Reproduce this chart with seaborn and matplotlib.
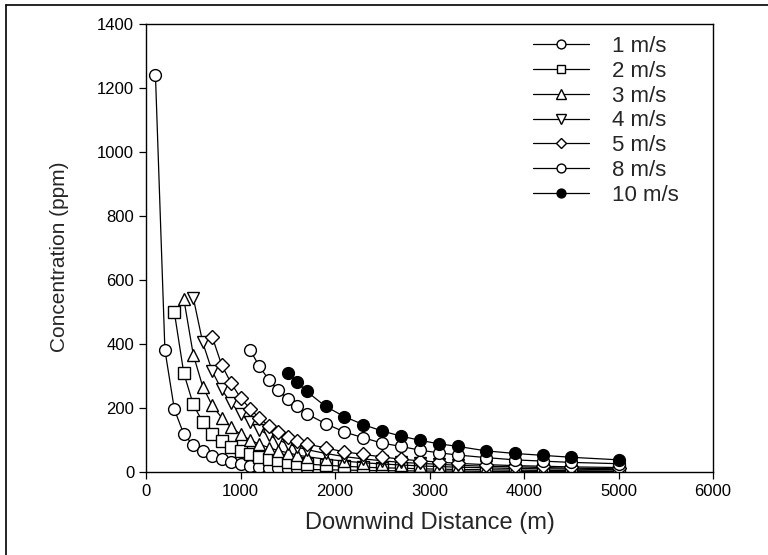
# %%
## Librerias

import pandas as pd
import seaborn as sns
import numpy as np
import matplotlib.pyplot as plt
from matplotlib.lines import Line2D

# %%
## Datos (distancia en m, concentracion en ppm)

distancias = [100, 200, 300, 400, 500, 600, 700, 800, 900, 1000, 1100, 1200, 1300, 1400, 1500,
              1600, 1700, 1900, 2100, 2300, 2500, 2700, 2900, 3100, 3300, 3600, 3900, 4200, 4500, 5000]

etiquetas = ['1 m/s', '2 m/s', '3 m/s', '4 m/s', '5 m/s', '8 m/s', '10 m/s']

conc_1 = [1240, 382, 196, 118, 84, 66, 50, 40, 31, 25, 20, 17, 14, 12, 10, 9, 8,
          7, 6, 5, 4, 4, 3, 3, 3, 2, 2, 2, 2, 1]
conc_2 = [499, 309, 211, 156, 120, 96, 78, 65, 55, 47, 41, 36, 32, 28, 25,
          21, 18, 15, 13, 12, 10, 9, 8, 7, 6, 5, 4, 3]
conc_3 = [541, 367, 267, 208, 170, 140, 118, 100, 87, 76, 67, 60, 53, 48,
          40, 34, 29, 25, 22, 19, 17, 15, 13, 11, 10, 9, 7]
conc_4 = [545, 405, 315, 258, 215, 182, 155, 132, 115, 100, 88, 78, 70,
          58, 48, 41, 35, 30, 27, 24, 21, 18, 16, 14, 12, 10]
conc_5 = [423, 335, 278, 232, 198, 168, 145, 125, 110, 98, 88,
          75, 63, 55, 47, 40, 35, 31, 27, 23, 20, 18, 16, 14]
conc_8 = [382, 330, 288, 255, 229, 205, 182,
          151, 125, 107, 90, 80, 68, 60, 53, 45, 38, 34, 30, 26]
conc_10 = [310, 280, 252, 205, 173, 148, 128, 112, 99, 88, 80, 66, 58, 52, 46, 38]

series = [conc_1, conc_2, conc_3, conc_4, conc_5, conc_8, conc_10]
marcadores = ['o', 's', '^', 'v', 'D', 'o', 'o']
tamanos = [8.5, 8, 9, 9, 6.8, 8.5, 8.5]
rellenos = ['white'] * 6 + ['black']

# %%
## Estilo general

sns.set_style('ticks')
plt.rcParams['font.family'] = ['Liberation Sans', 'DejaVu Sans']
plt.rcParams['xtick.direction'] = 'out'
plt.rcParams['ytick.direction'] = 'out'

fig = plt.figure(figsize=(7.68, 5.55), dpi=100)
ax = fig.add_axes([146/768, 83/555, 567/768, 448/555])

# %%
## Una curva por velocidad de viento (cada serie termina en 5000 m)

for conc, lab, m, ms, fc in zip(series, etiquetas, marcadores, tamanos, rellenos):
    x = distancias[len(distancias) - len(conc):]
    df = pd.DataFrame({'Distancia': x, 'Concentracion': conc})
    sns.lineplot(data=df, x='Distancia', y='Concentracion', ax=ax, color='black',
                 linewidth=0.9, marker=m, markersize=ms, markerfacecolor=fc,
                 markeredgecolor='black', markeredgewidth=1.0, label=lab)

ax.set_xlim(0, 6000)
ax.set_ylim(0, 1400)
ax.set_xticks(np.arange(0, 6001, 1000))
ax.set_yticks(np.arange(0, 1401, 200))
ax.tick_params(labelsize=12, length=5, width=0.9, colors='black')
for s in ax.spines.values():
    s.set_linewidth(1.0)
    s.set_color('black')

ax.set_xlabel('Downwind Distance (m)', fontsize=17)
ax.set_ylabel('Concentration (ppm)', fontsize=15)
ax.xaxis.set_label_coords(0.5, -0.09)
ax.yaxis.set_label_coords(-0.135, 0.48)

ax.legend(loc='upper left', bbox_to_anchor=(533/768, 1 - 36/555), bbox_transform=fig.transFigure,
          frameon=False, fontsize=16, handlelength=2.5, handletextpad=1.05,
          labelspacing=0.17, borderpad=0, borderaxespad=0, markerscale=0.75)

# marco exterior (solo arriba e izquierda, como en la imagen escaneada)
fig.add_artist(Line2D([6/768, 1], [1 - 5/555, 1 - 5/555], color='black', linewidth=1.2))
fig.add_artist(Line2D([6/768, 6/768], [0, 1 - 5/555], color='black', linewidth=1.2))

plt.savefig('out.png', dpi=100)
